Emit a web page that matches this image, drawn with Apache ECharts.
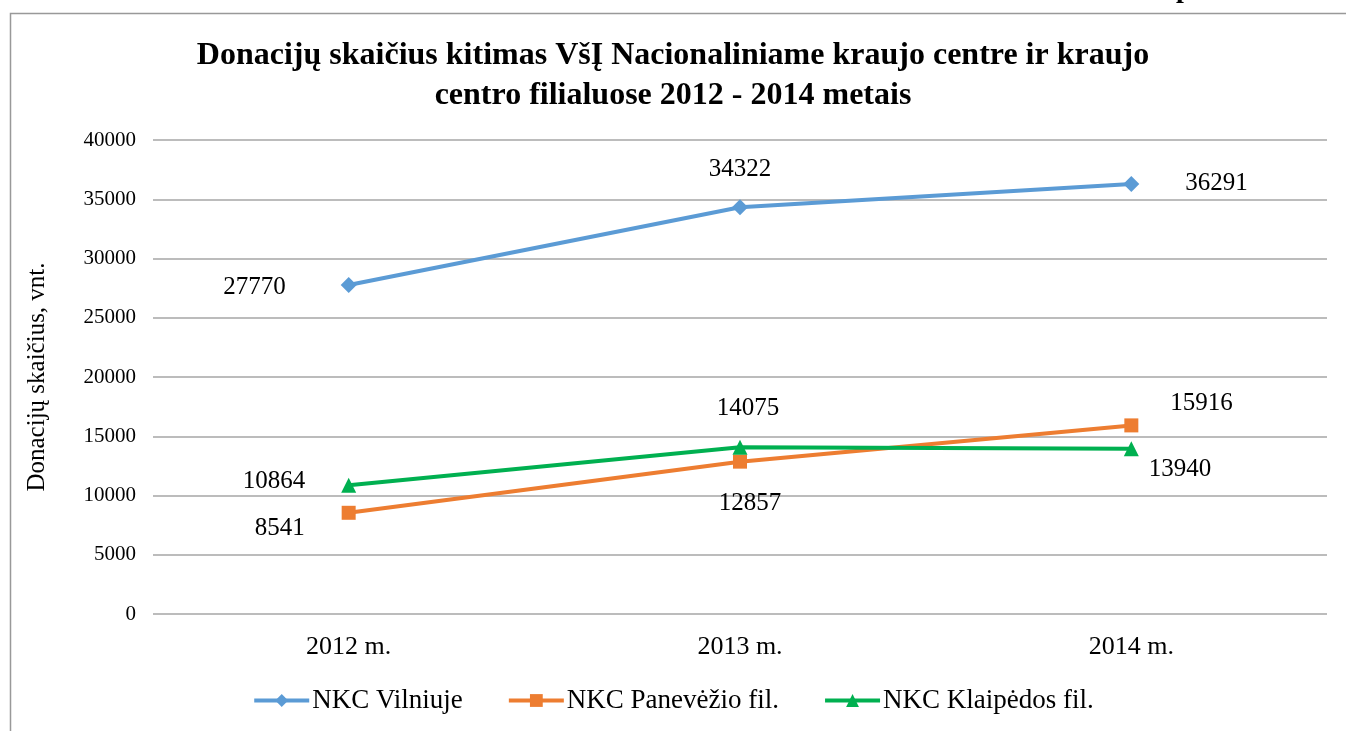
<!DOCTYPE html>
<html>
<head>
<meta charset="utf-8">
<script src="https://cdn.jsdelivr.net/npm/echarts@6/dist/echarts.min.js"></script>
<style>
html,body{margin:0;padding:0;background:#fff;}
#chart{width:1346px;height:731px;}
</style>
</head>
<body>
<div id="chart"></div>
<script>
// ---- data ----
const categories = ['2012 m.', '2013 m.', '2014 m.'];
const vilnius = [27770, 34322, 36291];
const panevezys = [8541, 12857, 15916];
const klaipeda = [10864, 14075, 13940];
const seriesNames = ['NKC Vilniuje', 'NKC Panevėžio fil.', 'NKC Klaipėdos fil.'];
const titleText = 'Donacijų skaičius kitimas VšĮ Nacionaliniame kraujo centre ir kraujo\ncentro filialuose 2012 - 2014 metais';
const yAxisName = 'Donacijų skaičius, vnt.';

// ---- label placement (styling) ----
const placeV = [
  {position: 'left', distance: 55, offset: [0, 3]},
  {position: 'top', distance: 17, offset: [0, 0]},
  {position: 'right', distance: 46, offset: [0, -1]}
];
const placeP = [
  {position: 'left', distance: 37, offset: [0, 16]},
  {position: 'bottom', distance: 22, offset: [10, 0]},
  {position: 'right', distance: 32, offset: [0, -22]}
];
const placeK = [
  {position: 'left', distance: 36, offset: [0, -4]},
  {position: 'top', distance: 19, offset: [8, 0]},
  {position: 'right', distance: 10, offset: [0, 21]}
];

const SERIF = '"Liberation Serif", "Times New Roman", serif';

function withLabels(values, places) {
  return values.map((v, i) => ({
    value: v,
    label: Object.assign({show: true}, places[i])
  }));
}

const chart = echarts.init(document.getElementById('chart'), null, {renderer: 'canvas'});

function mk(name, values, places, color, symbol, size) {
  return {
    name: name,
    type: 'line',
    data: withLabels(values, places),
    symbol: symbol,
    symbolSize: size,
    lineStyle: {color: color, width: 4},
    itemStyle: {color: color},
    label: {show: true, color: '#000', fontFamily: SERIF, fontSize: 25},
    emphasis: {disabled: true},
    animation: false
  };
}

chart.setOption({
  animation: false,
  backgroundColor: '#fff',
  title: {
    text: titleText,
    left: 'center',
    top: 31,
    textStyle: {fontFamily: SERIF, fontWeight: 'bold', fontSize: 32, color: '#000', lineHeight: 40}
  },
  graphic: [
    {type: 'rect', shape: {x: 10.5, y: 13.5, width: 1400, height: 800},
     style: {fill: 'none', stroke: '#999', lineWidth: 1.5}, silent: true},
    {type: 'text', x: 1176, y: -24,
     style: {text: 'p', fontFamily: SERIF, fontWeight: 'bold', fontSize: 28, fill: '#000'}, silent: true}
  ],
  legend: {
    bottom: 12,
    left: 'center',
    itemWidth: 55,
    itemHeight: 16,
    itemGap: 44,
    lineStyle: {width: 4},
    textStyle: {fontFamily: SERIF, fontSize: 27, color: '#000', padding: [0, 0, 0, -2]},
    data: seriesNames
  },
  grid: {left: 153, right: 19, top: 140, bottom: 117},
  xAxis: {
    type: 'category',
    data: categories,
    boundaryGap: true,
    axisLine: {show: false},
    axisTick: {show: false},
    axisLabel: {fontFamily: SERIF, fontSize: 26, color: '#000', margin: 20}
  },
  yAxis: {
    type: 'value',
    min: 0,
    max: 40000,
    interval: 5000,
    name: yAxisName,
    nameLocation: 'middle',
    nameGap: 103,
    nameTextStyle: {fontFamily: SERIF, fontSize: 25, color: '#000'},
    axisLine: {show: false},
    axisTick: {show: false},
    axisLabel: {fontFamily: SERIF, fontSize: 21, color: '#000', margin: 17,
                formatter: function (v) { return String(v); }},
    splitLine: {lineStyle: {color: '#a6a6a6', width: 1.5}}
  },
  series: [
    mk(seriesNames[0], vilnius, placeV, '#5b9bd5', 'diamond', 16),
    mk(seriesNames[1], panevezys, placeP, '#ed7d31', 'rect', 14),
    mk(seriesNames[2], klaipeda, placeK, '#00b050', 'triangle', 15)
  ]
});
</script>
</body>
</html>
